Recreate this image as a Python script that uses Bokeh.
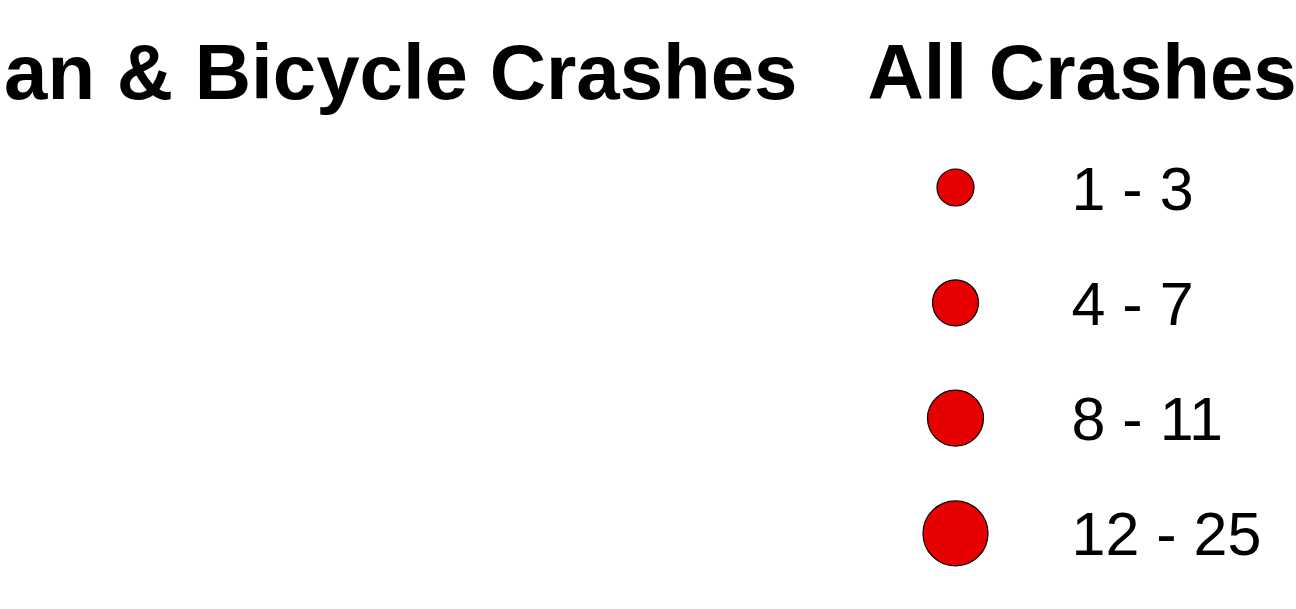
from bokeh.plotting import figure
from bokeh.models import Range1d, ColumnDataSource
from bokeh.core.properties import value
from bokeh.embed import file_html
from bokeh.resources import INLINE

# data
titles = ["an & Bicycle Crashes", "All Crashes"]
class_labels = ["1 - 3", "4 - 7", "8 - 11", "12 - 25"]

# styles
marker_sizes = [37, 46, 56, 65]
fill = "#e60000"

W, H = 1296, 600
p = figure(width=W, height=H, output_backend="svg", toolbar_location=None,
           x_range=Range1d(0, W), y_range=Range1d(H, 0), min_border=0,
           outline_line_color=None)
p.xaxis.visible = False
p.yaxis.visible = False
p.grid.visible = False
p.background_fill_color = "white"
p.border_fill_color = "white"

# titles
p.text(x=[797], y=[71], text=[titles[0]], text_font=value("Liberation Sans"),
       text_font_style="bold", text_font_size="78px", text_align="right",
       text_baseline="alphabetic", text_color="black")
p.text(x=[867], y=[71], text=[titles[1]], text_font=value("Liberation Sans"),
       text_font_style="bold", text_font_size="78px", text_align="left",
       text_baseline="alphabetic", text_color="black")

# legend rows
y0, step = 187, 115.3
ys = [y0 + i * step for i in range(len(class_labels))]
src = ColumnDataSource(dict(x=[955] * len(class_labels), y=ys, size=marker_sizes,
                            ty=[y + 1 for y in ys], tx=[1071] * len(class_labels),
                            label=class_labels))
p.scatter(x="x", y="y", size="size", source=src, fill_color=fill,
          line_color="black", line_width=1.2)
p.text(x="tx", y="ty", text="label", source=src, text_font=value("Liberation Sans"),
       text_font_size="61px", text_align="left", text_baseline="alphabetic",
       text_color="black")

open("out.html", "w").write(file_html(p, INLINE))
